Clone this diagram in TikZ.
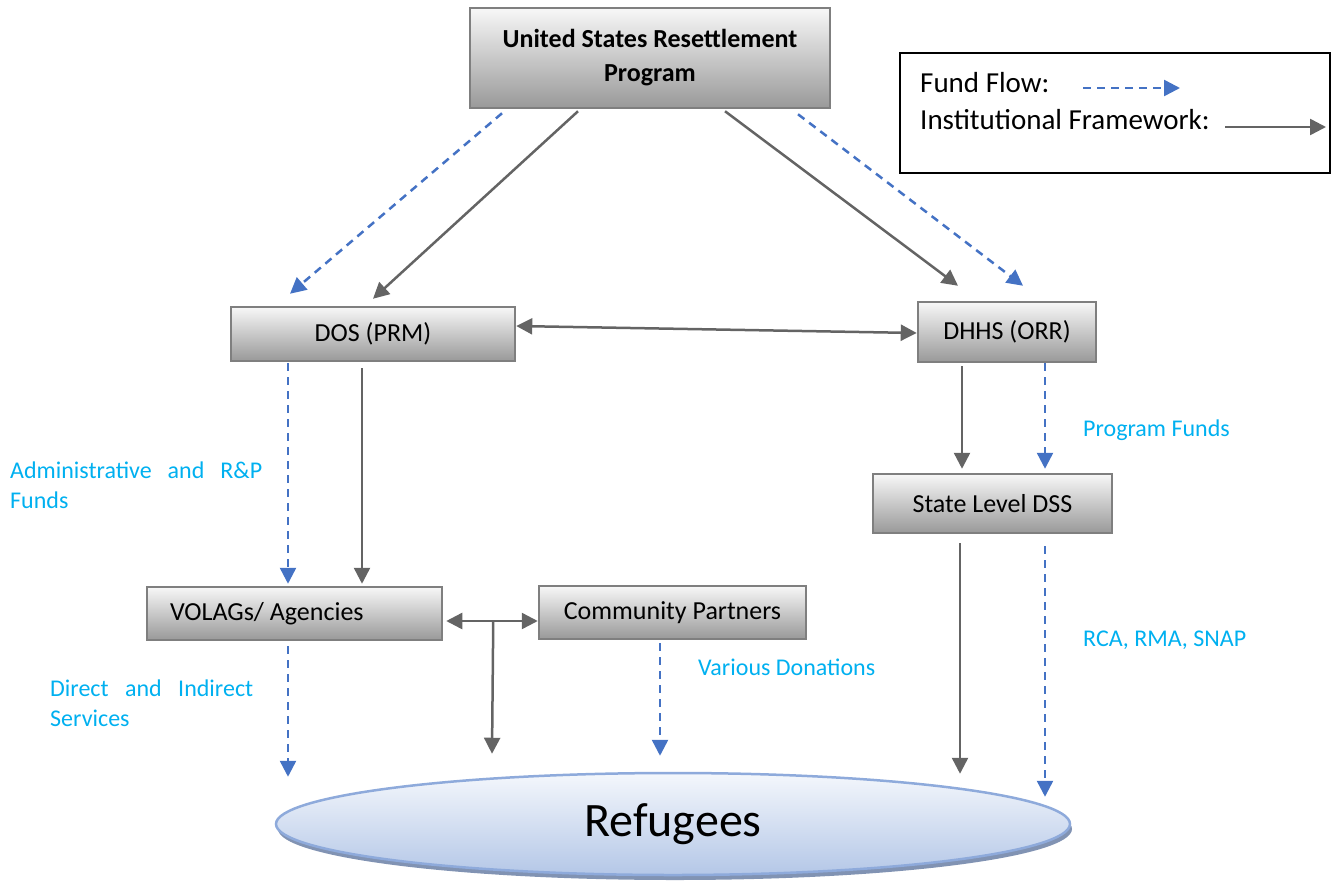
\documentclass[tikz,border=0pt]{standalone}
\usepackage{fontspec}
\setmainfont{Carlito}
\usetikzlibrary{arrows.meta,calc,shapes.geometric,shadows}
\definecolor{fundblue}{HTML}{4472C4}
\definecolor{instgray}{HTML}{646464}
\definecolor{lblblue}{HTML}{00B0F0}
\definecolor{boxedge}{HTML}{7F7F7F}
\definecolor{elledge}{HTML}{8EAADB}
\definecolor{elltop}{HTML}{F4F7FC}
\definecolor{ellbot}{HTML}{B4C7E7}
\definecolor{ellshadow}{HTML}{8193B3}
\begin{document}
\begin{tikzpicture}[x=1pt,y=-1pt,
  orgbox/.style={draw=boxedge,line width=2.5pt,top color=black!3,bottom color=black!40,
    inner sep=0pt,font=\fontsize{26}{31}\selectfont},
  fund/.style={draw=fundblue,line width=2.5pt,dash pattern=on 8pt off 6pt,
    -{Triangle[length=16pt,width=16pt]}},
  inst/.style={draw=instgray,line width=2.5pt,-{Triangle[length=16pt,width=16pt]}},
  instboth/.style={draw=instgray,line width=2.5pt,{Triangle[length=16pt,width=16pt]}-{Triangle[length=16pt,width=16pt]}},
  lbl/.style={inner sep=0pt,text=lblblue,font=\fontsize{24}{30}\selectfont},
  legtext/.style={inner sep=0pt,font=\fontsize{29}{35}\selectfont}]
\useasboundingbox (0,0) rectangle (1335,881);

% nodes
\node[orgbox,minimum width=360pt,minimum height=100pt,align=center,
  font=\fontsize{26}{34}\selectfont\bfseries] (title) at (650,58)
  {United States Resettlement\\Program};
\node[orgbox,minimum width=284pt,minimum height=54pt] (dos) at (373,334) {DOS (PRM)};
\node[orgbox,minimum width=178pt,minimum height=60pt] (dhhs) at (1007,332) {DHHS (ORR)};
\node[orgbox,minimum width=239pt,minimum height=59pt] (dss) at (992.5,503.5) {State Level DSS};
\node[orgbox,minimum width=295pt,minimum height=53pt] (volags) at (294.5,613.5) {\makebox[249pt][l]{VOLAGs/ Agencies}};
\node[orgbox,minimum width=267pt,minimum height=53pt] (comm) at (672.5,612.5) {Community Partners};
\node[ellipse,draw=elledge,line width=2.5pt,top color=elltop,bottom color=ellbot,
  minimum width=794pt,minimum height=102pt,inner sep=0pt,
  drop shadow={shadow xshift=2pt,shadow yshift=-5pt,fill=ellshadow,opacity=1},
  font=\fontsize{48}{57}\selectfont] (ref) at (673,824) {Refugees};

% legend
\node[draw=black,line width=1.5pt,minimum width=430pt,minimum height=120pt,inner sep=0pt] (legend) at (1115,113) {};
\node[legtext,anchor=base west] (lf) at (920,92) {Fund Flow:};
\node[legtext,anchor=base west] (li) at (920,129) {Institutional Framework:};
\coordinate (lfa) at (1083,88);
\coordinate (lfb) at (1180,88);
\coordinate (lia) at (1225,127);
\coordinate (lib) at (1326,127);
\draw[fund] (lfa) -- (lfb);
\draw[inst] (lia) -- (lib);

% connectors
\draw[fund] ($(title.south)+(-148,4)$) -- ($(dos.north)+(-83,-12)$);
\draw[inst] ($(title.south)+(-72,2)$) -- ($(dos.north)+(0,-7)$);
\draw[inst] ($(title.south)+(75,2)$) -- ($(dhhs.north)+(-49,-15)$);
\draw[fund] ($(title.south)+(148,5)$) -- ($(dhhs.north)+(16,-15)$);
\draw[instboth] ($(dos.east)+(0,-8)$) -- ($(dhhs.west)+(0,1)$);
\draw[fund] ($(dos.south)+(-85,1)$) -- ($(volags.north)+(-6.5,-2)$);
\draw[inst] ($(dos.south)+(-11,6)$) -- ($(volags.north)+(67.5,-2)$);
\draw[inst] ($(dhhs.south)+(-45,3)$) -- ($(dss.north)+(-30.5,-4)$);
\draw[fund] ($(dhhs.south)+(38,0)$) -- ($(dss.north)+(52.5,-4)$);
\draw[inst] ($(dss.south)+(-32.5,9)$) -- ($(ref.north)+(287,2)$);
\draw[fund] ($(dss.south)+(52.5,12)$) -- ($(ref.north)+(372,25)$);
\draw[fund] ($(volags.south)+(-6.5,5)$) -- ($(ref.north)+(-385,5)$);
\draw[instboth] ($(volags.east)+(3,7.5)$) -- ($(comm.west)+(0,8.5)$);
\coordinate (junc) at ($(volags.east)+(50,7.5)$);
\draw[inst] (junc) -- ($(ref.north)+(-181,-18)$);
\draw[fund] ($(comm.south)+(-12.5,3)$) -- ($(ref.north)+(-13,-16)$);

% labels
\node[lbl,anchor=north west,align=left] (adm) at (10,462)
  {\makebox[252pt][s]{Administrative and R\&P}\\Funds};
\node[lbl,anchor=north west,align=left] (dir) at (50,680)
  {\makebox[203pt][s]{Direct and Indirect}\\Services};
\node[lbl,anchor=base west] (pf) at (1083,436) {Program Funds};
\node[lbl,anchor=base west] (vd) at (698,675) {Various Donations};
\node[lbl,anchor=base west] (rca) at (1083,646) {RCA, RMA, SNAP};
\end{tikzpicture}
\end{document}
